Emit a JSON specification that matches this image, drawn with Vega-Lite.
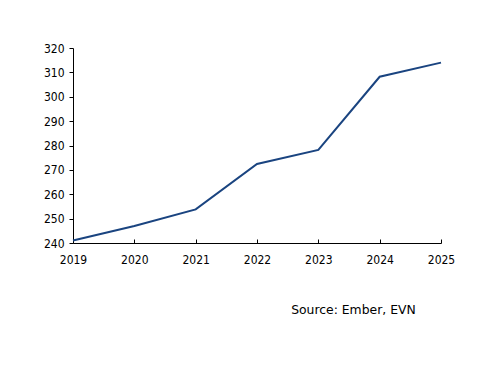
{
  "$schema": "https://vega.github.io/schema/vega-lite/v6.json",
  "width": 368,
  "height": 195,
  "autosize": {"type": "none"},
  "padding": {"left": 73, "top": 48, "right": 59, "bottom": 143},
  "background": "white",
  "data": {
    "values": [
      {"year": 2019, "value": 241.0},
      {"year": 2020, "value": 247.0},
      {"year": 2021, "value": 253.8},
      {"year": 2022, "value": 272.4},
      {"year": 2023, "value": 278.2},
      {"year": 2024, "value": 308.2},
      {"year": 2025, "value": 314.0}
    ]
  },
  "title": {
    "text": "Source: Ember, EVN",
    "orient": "bottom",
    "anchor": "end",
    "dx": -39,
    "offset": 39,
    "font": "DejaVu Sans",
    "fontSize": 12.4,
    "fontWeight": "normal",
    "color": "black"
  },
  "mark": {"type": "line", "color": "#1a4480", "strokeWidth": 2},
  "encoding": {
    "x": {
      "field": "year",
      "type": "quantitative",
      "scale": {"domain": [2019, 2025], "nice": false, "zero": false},
      "axis": {
        "title": null,
        "values": [2019, 2020, 2021, 2022, 2023, 2024, 2025],
        "format": "d",
        "grid": false,
        "labelFlush": false,
        "domainColor": "black",
        "tickColor": "black",
        "tickSize": -4,
        "labelPadding": 15,
        "labelFont": "DejaVu Sans Condensed",
        "labelFontSize": 12,
        "labelColor": "black"
      }
    },
    "y": {
      "field": "value",
      "type": "quantitative",
      "scale": {"domain": [240, 320], "nice": false, "zero": false},
      "axis": {
        "title": null,
        "values": [240, 250, 260, 270, 280, 290, 300, 310, 320],
        "grid": false,
        "domainColor": "black",
        "tickColor": "black",
        "tickSize": 4,
        "labelPadding": 5,
        "labelFont": "DejaVu Sans Condensed",
        "labelFontSize": 12,
        "labelColor": "black"
      }
    }
  },
  "config": {"view": {"stroke": null}}
}
